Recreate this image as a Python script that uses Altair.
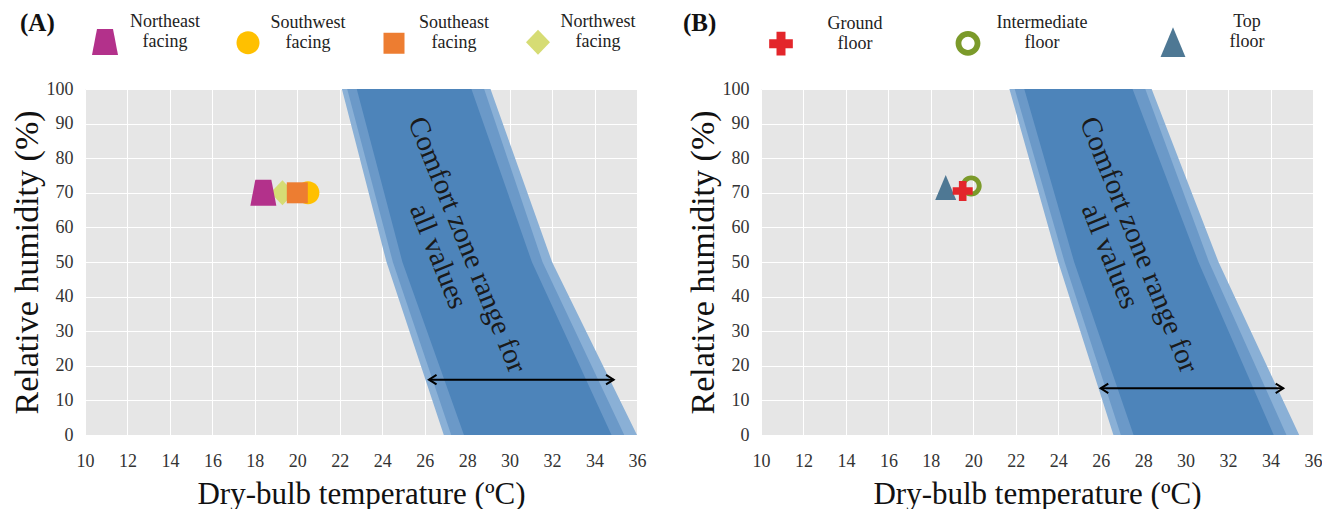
import math
import altair as alt
import pandas as pd

FONT = "Liberation Serif"
PW, PH = 552, 346

# ---------------- data ----------------
x_ticks = [10, 12, 14, 16, 18, 20, 22, 24, 26, 28, 30, 32, 34, 36]
y_ticks = [0, 10, 20, 30, 40, 50, 60, 70, 80, 90, 100]
x_title = "Dry-bulb temperature (ºC)"
y_title = "Relative humidity (%)"
panel_tags = ["(A)", "(B)"]
zone_text = "Comfort zone range for\nall values"

# Panel A markers
a_names = ["Northeast facing", "Southwest facing", "Southeast facing", "Northwest facing"]
a_temp = [18.4, 20.5, 20.0, 19.3]
a_rh = [70.0, 70.0, 70.0, 70.0]

# Panel B markers
b_names = ["Ground floor", "Intermediate floor", "Top floor"]
b_temp = [19.5, 19.9, 18.7]
b_rh = [70.5, 72.0, 71.5]

# Comfort zone bands (temperature edges at RH 0, 50, 100)
zone_rh = [0, 50, 100]
a_outer_lo = [26.9, 24.2, 22.1]
a_outer_hi = [36.0, 32.0, 29.1]
a_mid_lo = [27.25, 24.5, 22.35]
a_mid_hi = [35.4, 31.55, 28.8]
a_in_lo = [27.85, 24.95, 22.8]
a_in_hi = [34.8, 31.05, 28.2]

b_outer_lo = [26.6, 24.0, 21.7]
b_outer_hi = [35.35, 31.55, 28.4]
b_mid_lo = [26.95, 24.3, 21.95]
b_mid_hi = [34.75, 31.1, 28.1]
b_in_lo = [27.55, 24.75, 22.4]
b_in_hi = [34.15, 30.6, 27.5]

# double-headed arrows (start T, end T) and their RH
a_arrow = [26.2, 34.9]
a_arrow_rh = [16.0]
b_arrow = [26.0, 34.6]
b_arrow_rh = [13.5]

# annotation anchor (T, RH)
a_text_at = [28.0, 55.0]
b_text_at = [27.8, 55.0]

# ---------------- styles ----------------
A_SIZE, B_SIZE = 540, 400        # symbol size of the markers
A_SHIFT, B_SHIFT = 20, 17        # legend symbol drop (px at marker size)


def poly(pts, size, dy):
    u = math.sqrt(size) / 2
    return "M " + " L ".join(f"{x / u:.3f} {(y + dy) / u:.3f}" for x, y in pts) + " Z"


def circle(r, size, dy, inner=None):
    u = math.sqrt(size) / 2
    R, c = r / u, dy / u
    p = f"M {-R:.3f} {c:.3f} A {R:.3f} {R:.3f} 0 1 0 {R:.3f} {c:.3f} A {R:.3f} {R:.3f} 0 1 0 {-R:.3f} {c:.3f} Z"
    if inner:
        q = inner / u
        p += f" M {-q:.3f} {c:.3f} A {q:.3f} {q:.3f} 0 1 1 {q:.3f} {c:.3f} A {q:.3f} {q:.3f} 0 1 1 {-q:.3f} {c:.3f} Z"
    return p


a_shapes = [
    poly([(-8, -13), (8, -13), (13, 13), (-13, 13)], A_SIZE, A_SHIFT),
    circle(11.5, A_SIZE, A_SHIFT),
    poly([(-10.5, -10.5), (10.5, -10.5), (10.5, 10.5), (-10.5, 10.5)], A_SIZE, A_SHIFT),
    poly([(0, -12.5), (12, 0), (0, 12.5), (-12, 0)], A_SIZE, A_SHIFT),
]
b_shapes = [
    poly([(-3.8, -10), (3.8, -10), (3.8, -3.8), (10, -3.8), (10, 3.8), (3.8, 3.8),
          (3.8, 10), (-3.8, 10), (-3.8, 3.8), (-10, 3.8), (-10, -3.8), (-3.8, -3.8)], B_SIZE, B_SHIFT),
    circle(10.5, B_SIZE, B_SHIFT, inner=5.6),
    poly([(0, -12.5), (10.5, 12.5), (-10.5, 12.5)], B_SIZE, B_SHIFT),
]

HEAD_R = "M -1.6 -1 L 0 0 L -1.6 1"
HEAD_L = "M 1.6 -1 L 0 0 L 1.6 1"

a_colors = ["#b3318b", "#ffc000", "#ed7d31", "#d6dc74"]
a_order = [1, 3, 0, 2]
b_colors = ["#e3262b", "#7b9a2a", "#4e7894"]
b_order = [1, 2, 0]

band_colors = ["#8ab0d6", "#6b99c8", "#4d84ba"]

xs = alt.Scale(domain=[10, 36], nice=False, zero=False)
ys = alt.Scale(domain=[0, 100], nice=False, zero=True)
x_axis = alt.Axis(values=x_ticks, title=x_title, labelFlush=False)
y_axis = alt.Axis(values=y_ticks, title=y_title, labelFlush=False)


def X(f):
    return alt.X(f, scale=xs, axis=x_axis)


def Y(f):
    return alt.Y(f, scale=ys, axis=y_axis)


def panel(names, temps, rhs, colors, shapes, size, shift, order, field, bands,
          arrow, arrow_rh, text_at, tag, tag_x, legend):
    layers = []
    for (lo, hi), col in zip(bands, band_colors):
        df = pd.DataFrame({"RH": zone_rh, "lo": lo, "hi": hi})
        layers.append(
            alt.Chart(df).mark_area(orient="horizontal", color=col, opacity=1, clip=True)
            .encode(y=Y("RH:Q"), x=X("lo:Q"), x2="hi:Q")
        )

    tdf = pd.DataFrame({"T": [text_at[0]], "RH": [text_at[1]], "label": [zone_text]})
    layers.append(
        alt.Chart(tdf).mark_text(angle=68, font=FONT, fontSize=29, lineHeight=31,
                                 lineBreak="\n", align="center", baseline="middle",
                                 color="#1a1a1a")
        .encode(x=X("T:Q"), y=Y("RH:Q"), text="label:N")
    )

    rdf = pd.DataFrame({"x1": [arrow[0]], "x2": [arrow[1]], "RH": arrow_rh})
    layers.append(
        alt.Chart(rdf).mark_rule(color="black", strokeWidth=2)
        .encode(x=X("x1:Q"), x2="x2:Q", y=Y("RH:Q"))
    )
    for i, shp in [(0, HEAD_L), (1, HEAD_R)]:
        hdf = pd.DataFrame({"T": [arrow[i]], "RH": arrow_rh})
        layers.append(
            alt.Chart(hdf).mark_point(shape=shp, filled=False, color="black",
                                      strokeWidth=2, size=90, opacity=1)
            .encode(x=X("T:Q"), y=Y("RH:Q"))
        )

    pts = pd.DataFrame({
        field: [names[i] for i in order],
        "T": [temps[i] for i in order],
        "RH": [rhs[i] for i in order],
    })
    layers.append(
        alt.Chart(pts).mark_point(filled=True, opacity=1, strokeWidth=0, size=size, yOffset=-shift)
        .encode(
            x=X("T:Q"),
            y=Y("RH:Q"),
            color=alt.Color(f"{field}:N", scale=alt.Scale(domain=names, range=colors), legend=legend),
            shape=alt.Shape(f"{field}:N", scale=alt.Scale(domain=names, range=shapes), legend=legend),
        )
    )

    gdf = pd.DataFrame({"tag": [tag]})
    layers.append(
        alt.Chart(gdf).mark_text(align="left", baseline="middle", font=FONT, fontSize=25,
                                 fontWeight="bold", color="#111")
        .encode(x=alt.value(tag_x), y=alt.value(-66), text="tag:N")
    )
    return alt.layer(*layers).properties(width=PW, height=PH)


def make_legend(offset, colpad, ncol, symsize):
    return alt.Legend(
        orient="none", legendX=8, legendY=-79, direction="horizontal", columns=ncol,
        title=None, labelExpr="split(datum.label, ' ')", labelFont=FONT, labelFontSize=18,
        labelColor="#222", labelAlign="center", labelOffset=offset, columnPadding=colpad,
        symbolSize=symsize, symbolStrokeWidth=0, symbolOpacity=1, labelLimit=300,
    )


pA = panel(a_names, a_temp, a_rh, a_colors, a_shapes, A_SIZE, A_SHIFT, a_order, "Facing",
           [(a_outer_lo, a_outer_hi), (a_mid_lo, a_mid_hi), (a_in_lo, a_in_hi)],
           a_arrow, a_arrow_rh, a_text_at, panel_tags[0], -65, make_legend(48, 36, 4, A_SIZE))
pB = panel(b_names, b_temp, b_rh, b_colors, b_shapes, B_SIZE, B_SHIFT, b_order, "Floor",
           [(b_outer_lo, b_outer_hi), (b_mid_lo, b_mid_hi), (b_in_lo, b_in_hi)],
           b_arrow, b_arrow_rh, b_text_at, panel_tags[1], -78, make_legend(62, 72, 3, 560))

chart = (
    alt.hconcat(pA, pB, spacing=37)
    .resolve_scale(color="independent", shape="independent")
    .resolve_legend(color="independent", shape="independent")
    .properties(padding={"left": 2, "top": 2, "right": 0, "bottom": 0})
    .configure_view(fill="#e6e6e6", strokeWidth=0)
    .configure_axis(labelFont=FONT, labelFontSize=18, labelColor="#333", titleFont=FONT,
                    titleFontWeight="normal", titleColor="#111", grid=True, gridColor="white",
                    gridWidth=1, gridOpacity=1, domain=False, ticks=False)
    .configure_axisX(labelPadding=17, titleFontSize=31, titlePadding=9)
    .configure_axisY(labelPadding=12, titleFontSize=34, titlePadding=2)
)

chart.save("out.html", embed_options={"renderer": "svg", "actions": False})
